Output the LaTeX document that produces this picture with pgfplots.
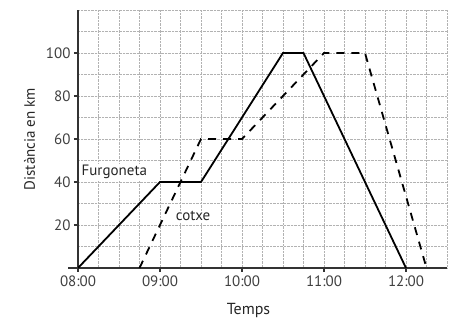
\documentclass[border=0pt]{standalone}
\usepackage{fontspec}
\setmainfont{PT Sans}
\usepackage{pgfplots}
\pgfplotsset{compat=1.18}
\begin{document}
\begin{tikzpicture}
\useasboundingbox (-78pt,-58pt) rectangle (378pt,268pt);
\begin{axis}[
  at={(0,0)}, anchor=south west,
  scale only axis, width=369pt, height=258pt,
  xmin=0, xmax=4.5, ymin=0, ymax=120,
  axis x line*=bottom, axis y line*=left,
  axis line style={black!80, line width=1.4pt},
  xtick={0,1,2,3,4}, xticklabels={08:00,09:00,10:00,11:00,12:00},
  ytick={20,40,60,80,100},
  minor xtick={0.25,0.5,...,4.5},
  minor ytick={10,20,...,120},
  grid=both,
  major grid style={gray!60, densely dotted, line width=0.6pt},
  minor grid style={gray!60, densely dotted, line width=0.6pt},
  tick align=outside, major tick length=4pt, minor tick length=0pt,
  tick style={black!80, line width=1.2pt},
  ticklabel style={font=\fontsize{15}{17}\selectfont, text=black!75},
  /pgf/number format/assume math mode=true,
  xlabel={Temps}, ylabel={Distància en km},
  xlabel style={font=\fontsize{16}{18}\selectfont, text=black!85, yshift=-10pt, xshift=-14pt},
  ylabel style={font=\fontsize{15}{17}\selectfont, text=black!85, yshift=4pt},
  clip=false,
]
\addplot[black, line width=1.8pt] coordinates {(0,0) (1,40) (1.5,40) (2.5,100) (2.75,100) (4,0)};
\addplot[black, line width=1.8pt, dash pattern=on 8pt off 7pt] coordinates {(0.75,0) (1.5,60) (2,60) (3,100) (3.5,100) (4.25,0)};
\draw[black!80, line width=1.4pt] (axis cs:-0.12,0) -- (axis cs:0,0);
\node[font=\fontsize{15}{17}\selectfont, text=black!85, fill=white, inner sep=1pt, anchor=south west] at (axis cs:0.03,41) {Furgoneta};
\node[font=\fontsize{15}{17}\selectfont, text=black!85, fill=white, inner sep=1pt, anchor=west] at (axis cs:1.18,24) {cotxe};
\end{axis}
\end{tikzpicture}
\end{document}
